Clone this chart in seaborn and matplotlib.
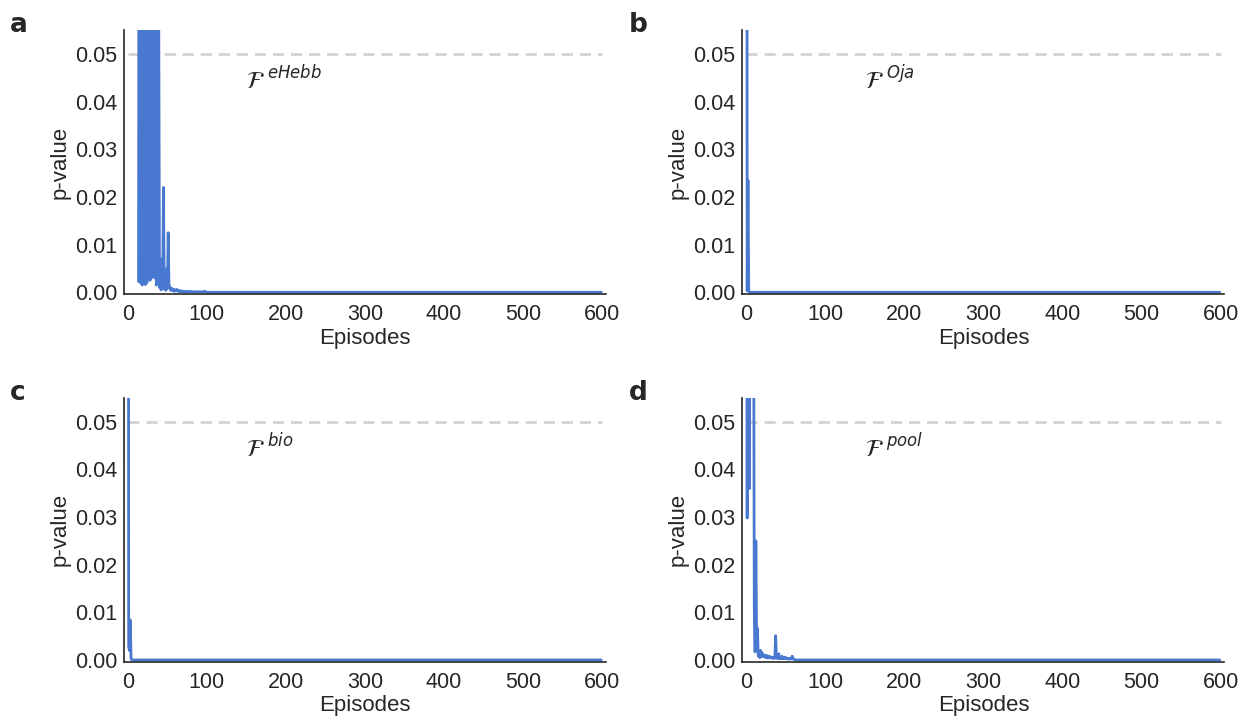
import numpy as np
import pandas as pd
import matplotlib
matplotlib.use("Agg")
import matplotlib.pyplot as plt
import seaborn as sns

# p-values per episode (early part, the rest sits at ~0)
n_episodes = 600
ehebb_head = [0.9, 0.7, 0.5, 0.6, 0.4, 0.3, 0.45, 0.2, 0.35, 0.25, 0.15, 0.3, 0.12, 0.2,
              0.0022, 0.09, 0.002, 0.037, 0.0015, 0.12, 0.0018, 0.08, 0.0016, 0.065,
              0.002, 0.1, 0.006, 0.07, 0.0025, 0.11, 0.003, 0.09, 0.047, 0.08, 0.003,
              0.07, 0.0015, 0.09, 0.007, 0.06, 0.001, 0.007, 0.0005, 0.004, 0.0008,
              0.022, 0.0007, 0.002, 0.0004, 0.005, 0.0008, 0.0125, 0.001, 0.0012,
              0.0004, 0.0005, 0.0008, 0.0003, 0.0006, 0.0002, 0.0005, 0.0003, 0.0006,
              0.0002, 0.0004, 0.0002, 0.0003, 0.0001, 0.0003, 0.0001, 0.0002, 0.0001,
              0.0002, 0.0001, 0.0001, 0.0002, 0.0001, 0.0001, 0.0001, 0.0002, 0.0001,
              0.0001, 0.0001, 0.0001, 0.0001, 0.0001, 0.0001, 0.0001, 0.0001, 0.0001,
              0.0001, 0.0001, 0.0001, 0.0001, 0.0001, 0.0001, 0.0001, 0.0002, 0.0001]
oja_head = [0.35, 0.0003, 0.0235, 0.0002]
bio_head = [0.3, 0.0027, 0.002, 0.0084, 0.0003]
pool_head = [0.25, 0.0298, 0.18, 0.12, 0.036, 0.15, 0.2, 0.3, 0.12, 0.09, 0.011,
             0.0017, 0.025, 0.0025, 0.0067, 0.0008, 0.0015, 0.0005, 0.002, 0.0007,
             0.0015, 0.0008, 0.001, 0.0006, 0.001, 0.0005, 0.0009, 0.0004, 0.0008,
             0.0005, 0.0007, 0.0004, 0.0006, 0.0004, 0.0005, 0.0003, 0.0004, 0.0051,
             0.0004, 0.0006, 0.0003, 0.0013, 0.0003, 0.0005, 0.0003, 0.0008, 0.0003,
             0.0004, 0.0003, 0.0006, 0.0003, 0.0004, 0.0002, 0.0003, 0.0002, 0.0003,
             0.0002, 0.0003, 0.0008, 0.0002, 0.0002, 0.0001]
tail_value = 0.0

panels = ['a', 'b', 'c', 'd']
rules = ['eHebb', 'Oja', 'bio', 'pool']
heads = [ehebb_head, oja_head, bio_head, pool_head]
threshold = 0.05
ytick_vals = [0.00, 0.01, 0.02, 0.03, 0.04, 0.05]
xtick_vals = [0, 100, 200, 300, 400, 500, 600]

sns.set_style("white")
plt.rcParams['font.family'] = ['Liberation Sans', 'DejaVu Sans']
plt.rcParams['mathtext.fontset'] = 'dejavusans'

fig = plt.figure(figsize=(12.52, 7.21), dpi=100)
boxes = [(0.099, 0.592), (0.593, 0.592), (0.099, 0.082), (0.593, 0.082)]
w, h = 0.385, 0.366

for letter, rule, head, (x0, y0) in zip(panels, rules, heads, boxes):
    ax = fig.add_axes([x0, y0, w, h])
    vals = head + [tail_value] * (n_episodes - len(head))
    df = pd.DataFrame({'Episodes': np.arange(n_episodes), 'p': vals})
    ax.plot([0, 600], [threshold, threshold], ls=(0, (4, 2.5)), color='#d3d3d3', lw=2, zorder=1)
    sns.lineplot(data=df, x='Episodes', y='p', ax=ax, color='#4878cf', lw=2, zorder=2)
    ax.set_xlim(-5, 605)
    ax.set_ylim(-0.0004, 0.055)
    ax.set_xticks(xtick_vals)
    ax.set_yticks(ytick_vals)
    ax.set_yticklabels([f'{v:.2f}' for v in ytick_vals])
    ax.tick_params(labelsize=15.5, length=0)
    ax.tick_params(axis='x', pad=7)
    ax.tick_params(axis='y', pad=5)
    ax.set_xlabel('Episodes', fontsize=16, labelpad=2)
    ax.set_ylabel('p-value', fontsize=16, labelpad=3)
    for s in ['left', 'bottom']:
        ax.spines[s].set_color('#262626')
        ax.spines[s].set_linewidth(1.2)
    sns.despine(ax=ax)
    ax.text(150, 0.0445, r'$\mathcal{F}^{\ %s}$' % rule, fontsize=17, va='center')
    fig.text(x0 - 0.091, y0 + h + 0.025, letter, fontsize=19, fontweight='bold',
             family='DejaVu Sans', va='top')

fig.savefig('out.png', dpi=100)
